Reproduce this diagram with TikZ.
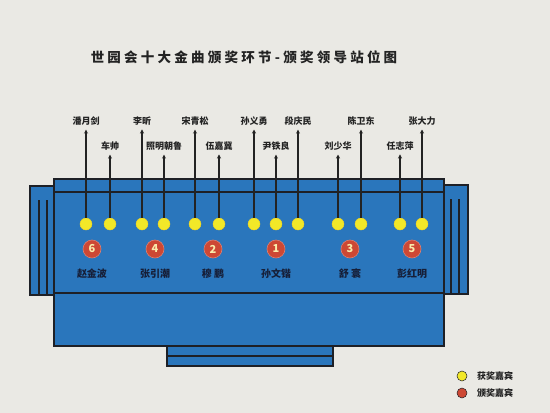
\documentclass[tikz,border=0pt]{standalone}
\usepackage{fontspec}
\setmainfont{Noto Sans CJK SC}
\usetikzlibrary{arrows.meta}
\definecolor{paper}{RGB}{234,233,228}
\definecolor{stageblue}{RGB}{42,118,188}
\definecolor{edge}{RGB}{30,32,38}
\definecolor{dotyellow}{RGB}{242,232,40}
\definecolor{dotred}{RGB}{205,72,52}
\definecolor{numcol}{RGB}{250,236,170}
\definecolor{namecol}{RGB}{22,30,55}
\definecolor{labcol}{RGB}{35,35,35}
\tikzset{
  stagepart/.style={fill=stageblue,draw=edge,line width=1.6pt},
  edgeline/.style={draw=edge,line width=1.6pt},
  winner/.style={circle,fill=dotyellow,draw=dotyellow!80!orange,line width=0.4pt,minimum size=12pt,inner sep=0pt},
  presenter/.style={circle,fill=dotred,draw=dotred!70!white,line width=0.6pt,minimum size=18pt,inner sep=0pt,text=numcol,font=\bfseries\fontsize{11}{11}\selectfont},
  guest/.style={font=\bfseries\fontsize{9}{9}\selectfont,text=labcol,inner sep=1pt},
  stagename/.style={font=\bfseries\fontsize{10}{10}\selectfont,text=namecol,inner sep=1pt},
  pointer/.style={draw=labcol,line width=1.1pt,-{Stealth[length=4pt,width=4pt]},shorten >=3pt},
  legenddot/.style={circle,draw=edge,line width=0.5pt,minimum size=10pt,inner sep=0pt},
  legendtext/.style={font=\bfseries\fontsize{9}{9}\selectfont,text=labcol,anchor=west,inner sep=0pt}
}
\begin{document}
\begin{tikzpicture}[x=1pt,y=-1pt]
\fill[paper] (0,0) rectangle (550,413);
\useasboundingbox (0,0) rectangle (550,413);
% title
\node[font=\bfseries\fontsize{13.5}{13.5}\selectfont\addfontfeature{LetterSpace=24},text=labcol] (title) at (244,57) {世园会十大金曲颁奖环节-颁奖领导站位图};
% stage
\filldraw[stagepart] (30,186) rectangle (54,295);
\filldraw[stagepart] (444,185) rectangle (468,294);
\filldraw[stagepart] (54,179) rectangle (444,346);
\filldraw[stagepart] (167,346) rectangle (333,366);
\draw[edgeline] (54,192) -- (444,192);
\draw[edgeline] (54,293) -- (444,293);
\draw[edgeline] (167,356) -- (333,356);
\draw[edgeline,line width=1.3pt] (39,200) -- (39,294);
\draw[edgeline,line width=1.3pt] (47,200) -- (47,294);
\draw[edgeline,line width=1.3pt] (451,199) -- (451,293);
\draw[edgeline,line width=1.3pt] (459,199) -- (459,293);
% guests (tall)
\foreach \n/\x/\t in {a/86/潘月剑, c/142/李昕, e/195/宋青松, g/254/孙义勇, i/298/段庆民, k/361/陈卫东, m/422/张大力}{
  \node[guest] (l\n) at (\x,121) {\t};
  \node[winner] (d\n) at (\x,224) {};
  \draw[pointer] (d\n) -- (l\n);
}
% guests (short)
\foreach \n/\x/\t in {b/110/车帅, d/164/照明朝鲁, f/219/伍嘉冀, h/276/尹铁良, j/338/刘少华, l/400/任志萍}{
  \node[guest] (l\n) at (\x,146) {\t};
  \node[winner] (d\n) at (\x,224) {};
  \draw[pointer] (d\n) -- (l\n);
}
% presenters
\foreach \k/\x/\num/\nm in {p6/92/6/赵金波, p4/155/4/张引潮, p2/213/2/穆\ 鹏, p1/276/1/孙文锴, p3/350/3/舒\ 寰, p5/412/5/彭红明}{
  \node[presenter] (\k) at (\x,249) {\num};
  \node[stagename] (n\k) at (\x,274) {\nm};
}
% legend
\node[legenddot,fill=dotyellow] (ly) at (462,376) {};
\node[legenddot,fill=dotred] (lr) at (462,393) {};
\node[legendtext] (lyt) at (477,376) {获奖嘉宾};
\node[legendtext] (lrt) at (477,393) {颁奖嘉宾};
\end{tikzpicture}
\end{document}
